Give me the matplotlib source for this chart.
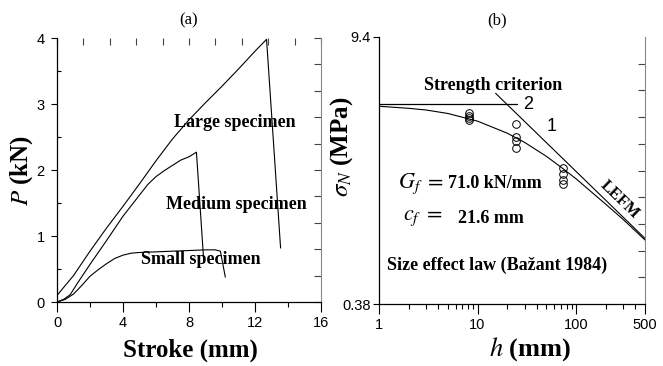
import numpy as np
import matplotlib
matplotlib.use("Agg")
import matplotlib.pyplot as plt
from matplotlib.ticker import FixedLocator, NullFormatter

plt.rcParams['font.family'] = ['Liberation Serif', 'DejaVu Serif']
plt.rcParams['mathtext.fontset'] = 'stix'

# (a) load vs stroke curves
large_x = [0, 1, 2, 3, 4, 5, 6, 7, 8, 9, 10, 11, 12, 12.7, 13.55]
large_y = [0.1, 0.4, 0.77, 1.12, 1.45, 1.79, 2.14, 2.47, 2.76, 3.02, 3.27, 3.53, 3.8, 3.98, 0.82]

medium_x = [0, 0.4, 0.8, 1.2, 2, 3, 4, 5, 5.5, 6, 6.5, 7, 7.5, 8, 8.45, 8.9]
medium_y = [0, 0.04, 0.11, 0.27, 0.57, 0.93, 1.3, 1.62, 1.78, 1.9, 1.99, 2.07, 2.15, 2.2, 2.27, 0.6]

small_x = [0, 0.5, 1, 1.5, 2, 2.5, 3, 3.5, 4, 4.5, 5, 6, 7, 8, 9, 9.6, 9.9, 10.2]
small_y = [0, 0.04, 0.12, 0.25, 0.39, 0.49, 0.58, 0.66, 0.71, 0.74, 0.75, 0.76, 0.77, 0.78, 0.79, 0.79, 0.77, 0.38]

# (b) size effect plot
test_h = [8.25, 8.25, 8.25, 8.25, 24.6, 24.6, 24.6, 24.6, 74.2, 74.2, 74.2, 74.2]
test_sigma = [3.76, 3.63, 3.54, 3.46, 3.32, 2.83, 2.69, 2.48, 1.94, 1.82, 1.69, 1.6]

sel_h = [1, 2, 3, 5, 10, 20, 30, 50, 70, 100, 150, 200, 300, 500]
sel_sigma = [4.09, 3.99, 3.91, 3.75, 3.42, 2.96, 2.65, 2.24, 1.97, 1.71, 1.43, 1.26, 1.05, 0.82]

strength_h = [1, 25]
strength_sigma = [4.19, 4.19]

lefm_h = [15.3, 500]
lefm_sigma = [4.77, 0.836]

fig = plt.figure(figsize=(6.63, 3.66), dpi=100)
axa = fig.add_axes([57 / 663, 64 / 366, 264 / 663, 264 / 366])
axb = fig.add_axes([379 / 663, 62 / 366, 266 / 663, 267 / 366])

# ---- panel (a)
axa.plot(large_x, large_y, color='black', lw=0.8)
axa.plot(medium_x, medium_y, color='black', lw=0.8)
axa.plot(small_x, small_y, color='black', lw=0.8)
axa.set_xlim(0, 16)
axa.set_ylim(0, 4)
axa.set_xticks([0, 4, 8, 12, 16])
axa.set_xticks([2, 6, 10, 14], minor=True)
axa.set_yticks([0, 1, 2, 3, 4])
axa.set_yticks([0.5, 1.5, 2.5, 3.5], minor=True)
axa.tick_params(axis='x', which='major', direction='out', length=7, width=0.8, pad=3)
axa.tick_params(axis='x', which='minor', direction='out', length=3.5, width=0.8)
axa.tick_params(axis='y', which='major', direction='out', length=4, width=0.8, pad=5)
axa.tick_params(axis='y', which='minor', direction='in', length=3, width=0.8)
axa.tick_params(labelsize=10.5, labelfontfamily='Liberation Sans')
axa.spines['top'].set_visible(False)
axa.spines['right'].set_color('#888888')
axa.spines['right'].set_linewidth(0.8)
for s in ('left', 'bottom'):
    axa.spines[s].set_linewidth(0.9)

secx = axa.secondary_xaxis('top')
secx.set_xticks(np.linspace(0, 16, 11))
secx.xaxis.set_major_formatter(NullFormatter())
secx.tick_params(direction='in', length=5, width=0.8, color='#444444')
secx.spines['top'].set_visible(False)
secy = axa.secondary_yaxis('right')
secy.set_yticks(np.linspace(0, 4, 11))
secy.yaxis.set_major_formatter(NullFormatter())
secy.tick_params(direction='in', length=5, width=0.8, color='#444444')
secy.spines['right'].set_visible(False)

axa.set_xlabel('Stroke (mm)', fontsize=18, fontweight='bold')
axa.xaxis.set_label_coords(0.504, -0.14)
axa.set_ylabel(r'$P$ (kN)', fontsize=18, fontweight='bold')
axa.yaxis.set_label_coords(-0.085, 0.5)

txt = dict(fontsize=13, fontweight='bold', ha='center', va='center')
axa.text(10.8, 2.72, 'Large specimen', **txt)
axa.text(10.9, 1.47, 'Medium specimen', **txt)
axa.text(8.7, 0.64, 'Small specimen', **txt)

# ---- panel (b)
axb.set_xscale('log')
axb.set_yscale('log')
axb.plot(sel_h, sel_sigma, color='black', lw=0.8)
axb.plot(strength_h, strength_sigma, color='black', lw=0.9)
axb.plot(lefm_h, lefm_sigma, color='black', lw=0.8)
axb.plot(test_h, test_sigma, 'o', mfc='none', mec='black', ms=5.5, mew=0.7)
axb.set_xlim(1, 500)
axb.set_ylim(0.38, 9.4)
axb.xaxis.set_major_locator(FixedLocator([1, 10, 100, 500]))
axb.xaxis.set_major_formatter(matplotlib.ticker.FixedFormatter(['1', '10', '100', '500']))
axb.xaxis.set_minor_locator(FixedLocator([2, 3, 4, 5, 6, 7, 8, 9, 20, 30, 40, 50, 60, 70, 80, 90, 200, 300, 400]))
axb.xaxis.set_minor_formatter(NullFormatter())
axb.yaxis.set_major_locator(FixedLocator([0.38, 9.4]))
axb.yaxis.set_major_formatter(matplotlib.ticker.FixedFormatter(['0.38', '9.4']))
axb.yaxis.set_minor_locator(FixedLocator([]))
axb.tick_params(axis='x', which='major', direction='out', length=7, width=0.8, pad=3)
axb.tick_params(axis='x', which='minor', direction='out', length=3.5, width=0.8)
axb.tick_params(axis='y', which='major', direction='out', length=4, width=0.8, pad=2)
axb.tick_params(labelsize=10.5, labelfontfamily='Liberation Sans')
axb.spines['top'].set_visible(False)
axb.spines['right'].set_color('#888888')
axb.spines['right'].set_linewidth(0.8)
for s in ('left', 'bottom'):
    axb.spines[s].set_linewidth(0.9)

secy2 = axb.secondary_yaxis('right')
secy2.yaxis.set_major_locator(FixedLocator(np.geomspace(0.38, 9.4, 11)[1:-1]))
secy2.yaxis.set_minor_locator(FixedLocator([]))
secy2.yaxis.set_major_formatter(NullFormatter())
secy2.tick_params(direction='in', length=5, width=0.8, color='#444444')
secy2.spines['right'].set_visible(False)

axb.set_xlabel(r'$h$ (mm)', fontsize=19, fontweight='bold')
axb.xaxis.set_label_coords(0.568, -0.115)
axb.set_ylabel(r'$\sigma_N$ (MPa)', fontsize=18, fontweight='bold')
axb.yaxis.set_label_coords(-0.09, 0.59)

axb.text(0.43, 0.82, 'Strength criterion', transform=axb.transAxes, **txt)
axb.text(0.56, 0.747, '2', transform=axb.transAxes, fontsize=13,
         family='Liberation Sans', ha='center', va='center')
axb.text(0.65, 0.664, '1', transform=axb.transAxes, fontsize=13,
         family='Liberation Sans', ha='center', va='center')
axb.text(0.07, 0.452, r'$G_f\ =$', transform=axb.transAxes, fontsize=16,
         ha='left', va='center')
axb.text(0.26, 0.452, '71.0 kN/mm', transform=axb.transAxes, fontsize=13,
         fontweight='bold', ha='left', va='center')
axb.text(0.09, 0.32, r'$c_f\ =$', transform=axb.transAxes, fontsize=16,
         ha='left', va='center')
axb.text(0.296, 0.32, '21.6 mm', transform=axb.transAxes, fontsize=13,
         fontweight='bold', ha='left', va='center')
axb.text(0.445, 0.146, 'Size effect law (Bažant 1984)', transform=axb.transAxes, **txt)
axb.text(0.904, 0.39, 'LEFM', transform=axb.transAxes, fontsize=12,
         fontweight='bold', ha='center', va='center', rotation=-44)

fig.text(189 / 663, 1 - 20 / 366, '(a)', fontsize=12, ha='center', va='center')
fig.text(497 / 663, 1 - 20 / 366, '(b)', fontsize=12, ha='center', va='center')

fig.savefig('out.png', dpi=100)
